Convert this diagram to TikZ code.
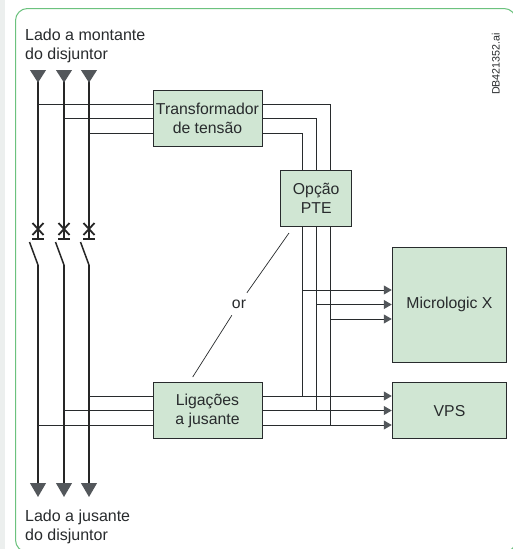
\documentclass[tikz,border=0pt]{standalone}
\usepackage{fontspec}
\setmainfont{Liberation Sans}
\definecolor{frame}{RGB}{108, 194, 126}
\definecolor{strip}{RGB}{236, 239, 238}
\definecolor{boxfill}{RGB}{208, 230, 211}
\definecolor{ink}{RGB}{40, 43, 45}
\definecolor{tipgray}{RGB}{83, 87, 91}
\usetikzlibrary{arrows.meta}
\tikzset{
    label/.style={font=\fontsize{15.8}{19}\selectfont, text=ink, align=center, inner sep=0pt},
    sidelabel/.style={label, font=\fontsize{16}{19}\selectfont, align=left, anchor=west},
    box/.style={label, draw=ink, line width=1pt, fill=boxfill, minimum height=56pt},
    wide/.style={box, minimum width=109pt},
    narrow/.style={box, minimum width=71.5pt},
    large/.style={box, minimum width=114.5pt},
    wire/.style={draw=ink, line width=1pt},
    feed/.style={wire, -{Triangle[length=8pt, width=9pt, color=tipgray]}},
    bus/.style={draw=black!85, line width=2pt},
    busin/.style={bus, {Triangle[reversed, length=12.7pt, width=15.7pt, color=tipgray]}-},
    busout/.style={bus, -{Triangle[length=14pt, width=15.7pt, color=tipgray]}},
}

\begin{document}
\begin{tikzpicture}[x=1pt, y=-1pt]
    \useasboundingbox (0,0) rectangle (512,549);
    \fill[white]  (0,0) rectangle (512,549);
    \fill[strip]  (0,0) rectangle (5,549);
    \draw[frame, line width=1pt, rounded corners=12pt] (15.5,8.5) rectangle (516,552);

    \node[sidelabel] (upstream)   at (25,46)    {Lado a montante\\do disjuntor};
    \node[sidelabel] (downstream) at (25,526.5) {Lado a jusante\\do disjuntor};
    \node[label, font=\fontsize{10.7}{12}\selectfont, rotate=90] (ref) at (495.7,64) {DB421352.ai};

    \node[wide]   (trafo)    at (207.5,118.5) {Transformador\\de tensão};
    \node[narrow] (opcao)    at (316.2,198)   {Opção\\PTE};
    \node[wide]   (ligacoes) at (207.5,410.7) {Ligações\\a jusante};
    \node[large, minimum height=115pt] (micro) at (449.5,304.5) {Micrologic X};
    \node[large]  (vps)      at (449.5,410.7) {VPS};

    \foreach \n/\xb/\xv/\yt/\yl/\ym in {1/38/330.7/104/425/319, 2/64/316/118.5/410.5/304.5, 3/89/302/133/396/290} {
        \coordinate (top\n)      at (\xb,70);
        \coordinate (bar\n)      at (\xb,239);
        \coordinate (hinge\n)    at (\xb,265);
        \coordinate (blade\n)    at (\xb-8.5,242);
        \coordinate (end\n)      at (\xb,497);
        \coordinate (tapUp\n)    at (\xb,\yt);
        \coordinate (tapDown\n)  at (\xb,\yl);
        \coordinate (riser\n)    at (\xv,\ym);

        \draw[busin]  (top\n) -- (bar\n);
        \draw[busout] (hinge\n) -- (end\n);
        \draw[line width=1.5pt, black!85] (blade\n) -- (hinge\n);
        \draw[line width=1.8pt, black!85] (\xb-6,239) -- (\xb+6,239);
        \draw[line width=1.8pt, black!85] (\xb-5.5,223) -- (\xb+5.5,235);
        \draw[line width=1.8pt, black!85] (\xb+5.5,223) -- (\xb-5.5,235);

        \draw[wire] (tapUp\n) -- (tapUp\n -| trafo.west);
        \draw[wire] (tapUp\n -| trafo.east) -| (riser\n |- opcao.north);
        \draw[wire] (riser\n |- opcao.south) -- (riser\n |- tapDown\n);
        \draw[feed] (riser\n) -- (riser\n -| micro.west);
        \draw[wire] (tapDown\n) -- (tapDown\n -| ligacoes.west);
        \draw[feed] (tapDown\n -| ligacoes.east) -- (tapDown\n -| vps.west);
    }

    \node[label, minimum width=16pt, minimum height=22pt] (orlabel) at (239,304) {or};
    \coordinate (orTop) at (289,233);
    \coordinate (orBottom) at (192.7,377);
    \draw[draw=ink, line width=0.7pt] (orTop) -- (orlabel);
    \draw[draw=ink, line width=0.7pt] (orBottom) -- (orlabel);
\end{tikzpicture}
\end{document}
